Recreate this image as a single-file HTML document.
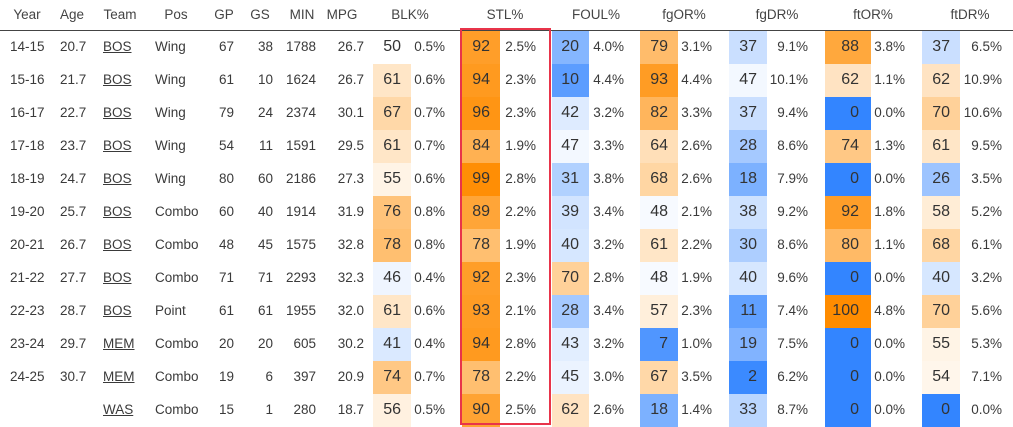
<!DOCTYPE html>
<html><head><meta charset="utf-8"><style>
body{margin:0;width:1013px;height:427px;background:#fff;overflow:hidden;font-family:"Liberation Sans",Arial,sans-serif;color:#3a3a3a}
#t{position:relative;width:1013px;height:427px}
.h{position:absolute;top:7px;font-size:13.5px;color:#444;transform:translateX(-50%);white-space:nowrap}
.c{position:absolute;height:33px;line-height:32px;font-size:13.5px;white-space:nowrap}
.cell{position:absolute;height:33px;line-height:32px;font-size:16px;text-align:right;box-sizing:border-box;padding-right:10px;color:#333}
u{text-decoration:underline}
</style></head><body>
<div id="t"></div>
<script>
const headers=["Year","Age","Team","Pos","GP","GS","MIN","MPG","BLK%","STL%","FOUL%","fgOR%","fgDR%","ftOR%","ftDR%"];
const years=["14-15","15-16","16-17","17-18","18-19","19-20","20-21","21-22","22-23","23-24","24-25",""];
const ages=["20.7","21.7","22.7","23.7","24.7","25.7","26.7","27.7","28.7","29.7","30.7",""];
const teams=["BOS","BOS","BOS","BOS","BOS","BOS","BOS","BOS","BOS","MEM","MEM","WAS"];
const positions=["Wing","Wing","Wing","Wing","Wing","Combo","Combo","Combo","Point","Combo","Combo","Combo"];
const gp=[67,61,79,54,80,60,48,71,61,20,19,15];
const gs=[38,10,24,11,60,40,45,71,61,20,6,1];
const mins=[1788,1624,2374,1591,2186,1914,1575,2293,1955,605,397,280];
const mpg=["26.7","26.7","30.1","29.5","27.3","31.9","32.8","32.3","32.0","30.2","20.9","18.7"];
const blkPct=[50,61,67,61,55,76,78,46,61,41,74,56];
const blkVal=["0.5%","0.6%","0.7%","0.7%","0.6%","0.8%","0.8%","0.4%","0.6%","0.4%","0.7%","0.5%"];
const stlPct=[92,94,96,84,99,89,78,92,93,94,78,90];
const stlVal=["2.5%","2.3%","2.3%","1.9%","2.8%","2.2%","1.9%","2.3%","2.1%","2.8%","2.2%","2.5%"];
const foulPct=[20,10,42,47,31,39,40,70,28,43,45,62];
const foulVal=["4.0%","4.4%","3.2%","3.3%","3.8%","3.4%","3.2%","2.8%","3.4%","3.2%","3.0%","2.6%"];
const fgorPct=[79,93,82,64,68,48,61,48,57,7,67,18];
const fgorVal=["3.1%","4.4%","3.3%","2.6%","2.6%","2.1%","2.2%","1.9%","2.3%","1.0%","3.5%","1.4%"];
const fgdrPct=[37,47,37,28,18,38,30,40,11,19,2,33];
const fgdrVal=["9.1%","10.1%","9.4%","8.6%","7.9%","9.2%","8.6%","9.6%","7.4%","7.5%","6.2%","8.7%"];
const ftorPct=[88,62,0,74,0,92,80,0,100,0,0,0];
const ftorVal=["3.8%","1.1%","0.0%","1.3%","0.0%","1.8%","1.1%","0.0%","4.8%","0.0%","0.0%","0.0%"];
const ftdrPct=[37,62,70,61,26,58,68,40,70,55,54,0];
const ftdrVal=["6.5%","10.9%","10.6%","9.5%","3.5%","5.2%","6.1%","3.2%","5.6%","5.3%","7.1%","0.0%"];

const t=document.getElementById('t');
const hx=[27,72,120,176,224,260,302,342,410,505,596,684,777,873,970];
headers.forEach((h,i)=>{const d=document.createElement('div');d.className='h';d.style.left=hx[i]+'px';d.textContent=h;


t.appendChild(d);});
const line=document.createElement('div');line.style.cssText='position:absolute;left:0;top:30px;width:1013px;height:1px;background:#444';


t.appendChild(line);

function color(v){
  if(v>=50){const k=(v-50)/50;return `rgb(255,${Math.round(255-115*k)},${Math.round(255-255*k)})`;}
  const k=(50-v)/50;return `rgb(${Math.round(255-204*k)},${Math.round(255-122*k)},255)`;
}
function txt(x,y,s,align,name){const d=document.createElement('div');d.className='c';d.style.top=y+'px';
 if(align==='r'){d.style.right=(1013-x)+'px';}else d.style.left=x+'px';
 d.innerHTML=s;
 
 
 t.appendChild(d);}
const groups=[[blkPct,blkVal,373,411,445,'blk'],[stlPct,stlVal,462,500,536,'stl'],[foulPct,foulVal,552,589,624,'foul'],[fgorPct,fgorVal,640,678,712,'fgor'],[fgdrPct,fgdrVal,729,767,808,'fgdr'],[ftorPct,ftorVal,825,871,905,'ftor'],[ftdrPct,ftdrVal,922,960,1002,'ftdr']];
years.forEach((yr,r)=>{
  const y=31+r*33;
  txt(10,y,yr,'l','year');
  txt(60,y,ages[r],'l','age');
  const tm=document.createElement('div');tm.className='c';tm.style.top=y+'px';tm.style.left='103px';tm.innerHTML='<u>'+teams[r]+'</u>';tm.style.cursor='pointer';
  
  
  t.appendChild(tm);
  txt(155,y,positions[r],'l','position');
  txt(234,y,gp[r],'r','games-played');
  txt(273,y,gs[r],'r','games-started');
  txt(316,y,mins[r],'r','minutes');
  txt(364,y,mpg[r],'r','minutes-per-game');
  groups.forEach(g=>{
    const v=g[0][r];
    const c=document.createElement('div');c.className='cell';
    c.style.left=g[2]+'px';c.style.top=y+'px';c.style.width=(g[3]-g[2])+'px';c.style.background=color(v);
    if(g[3]-g[2]>40)c.style.paddingRight='12px';
    c.textContent=v;
    
    
    t.appendChild(c);
    txt(g[4],y,g[1][r],'r',g[5]+'-value');
  });
});
const box=document.createElement('div');
box.style.cssText='position:absolute;left:460px;top:28px;width:91px;height:397px;border:2px solid #e8344a;box-sizing:border-box';


t.appendChild(box);
</script>
</body></html>
